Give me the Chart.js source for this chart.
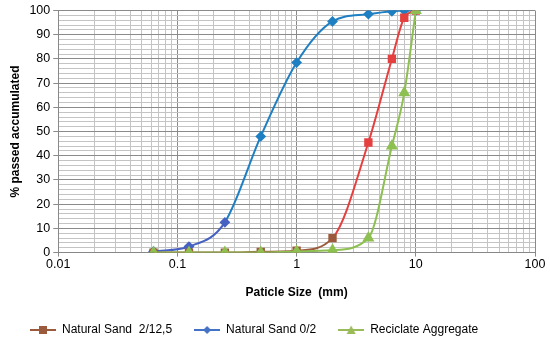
<!DOCTYPE html>
<html>
<head>
<meta charset="utf-8">
<script src="https://cdn.jsdelivr.net/npm/chart.js@4/dist/chart.umd.min.js"></script>
<style>
  html, body { margin: 0; padding: 0; background: #fff; }
  #wrap { width: 550px; height: 344px; }
</style>
</head>
<body>
<div id="wrap"><canvas id="myChart"></canvas></div>
<script>
// sieve sizes (mm) and % passed
var sizes = [0.063, 0.125, 0.25, 0.5, 1, 2, 4, 6.3, 8, 10];
var sand212 = [0, 0, 0, 0.3, 0.8, 6, 45.5, 80, 97, 100];
var sand02 = [0.5, 2.5, 12.5, 48, 78.5, 95.5, 98.5, 99.7, 100, 100];
var recycled = [0, 0, 0, 0, 0.5, 1, 6, 44, 66, 100];
var seriesNames = ["Natural Sand  2/12,5", "Natural Sand 0/2", "Reciclate Aggregate"];
var xMajor = [0.01, 0.1, 1, 10, 100];

var FONT = "'Liberation Sans', Arial, sans-serif";

function toPoints(ys) {
  return sizes.map(function (x, i) { return { x: x, y: ys[i] }; });
}

function isMajor(v) {
  var l = Math.log10(v);
  return Math.abs(l - Math.round(l)) < 1e-9;
}

// small legend icon: line with marker in the middle
function legendIcon(color, style) {
  var c = document.createElement("canvas");
  c.width = 26; c.height = 12;
  var g = c.getContext("2d");
  g.strokeStyle = color;
  g.lineWidth = 2;
  g.beginPath(); g.moveTo(0, 6); g.lineTo(26, 6); g.stroke();
  g.fillStyle = color;
  g.beginPath();
  if (style === "rect") {
    g.rect(9, 2, 8, 8);
  } else if (style === "rectRot") {
    g.moveTo(13, 2); g.lineTo(17, 6); g.lineTo(13, 10); g.lineTo(9, 6); g.closePath();
  } else {
    g.moveTo(13, 1.5); g.lineTo(17.5, 10); g.lineTo(8.5, 10); g.closePath();
  }
  g.fill();
  return c;
}

function splitColor(lowColor, highColor, limit) {
  return function (ctx) {
    return ctx.p1.parsed.y <= limit ? lowColor : highColor;
  };
}

var brown = "#9C5A3C", red = "#E5403F";
var blueDark = "#4661C2", blue = "#1E7FC2";
var green = "#8DC050";

var icons = [legendIcon(brown, "rect"), legendIcon("#4472C4", "rectRot"), legendIcon("#9BBB59", "triangle")];

var ctx = document.getElementById("myChart").getContext("2d");
var chart = new Chart(ctx, {
  type: "line",
  data: {
    datasets: [
      {
        label: seriesNames[0],
        data: toPoints(sand212),
        borderColor: brown,
        backgroundColor: brown,
        borderWidth: 2,
        segment: { borderColor: splitColor(brown, red, 6) },
        pointStyle: "rect",
        pointRadius: 4.5,
        pointBackgroundColor: sand212.map(function (v) { return v <= 6 ? brown : red; }),
        pointBorderColor: sand212.map(function (v) { return v <= 6 ? brown : red; }),
        cubicInterpolationMode: "monotone",
        order: 2
      },
      {
        label: seriesNames[1],
        data: toPoints(sand02),
        borderColor: blue,
        backgroundColor: blue,
        borderWidth: 2,
        segment: { borderColor: splitColor(blueDark, blue, 12.5) },
        pointStyle: "rectRot",
        pointRadius: 4,
        pointBackgroundColor: sand02.map(function (v) { return v <= 12.5 ? blueDark : blue; }),
        pointBorderColor: sand02.map(function (v) { return v <= 12.5 ? blueDark : blue; }),
        cubicInterpolationMode: "monotone",
        order: 3
      },
      {
        label: seriesNames[2],
        data: toPoints(recycled),
        borderColor: green,
        backgroundColor: green,
        borderWidth: 2,
        pointStyle: "triangle",
        pointRadius: 5,
        pointBackgroundColor: green,
        pointBorderColor: green,
        cubicInterpolationMode: "monotone",
        order: 1
      }
    ]
  },
  options: {
    responsive: true,
    maintainAspectRatio: false,
    animation: false,
    layout: { padding: { left: 8, right: 15, top: 4, bottom: -2 } },
    plugins: {
      tooltip: { enabled: false },
      legend: {
        position: "bottom",
        align: "start",
        labels: {
          font: { family: FONT, size: 12 },
          color: "#000",
          usePointStyle: true,
          pointStyleWidth: 26,
          padding: 22,
          generateLabels: function (ch) {
            return ch.data.datasets.map(function (ds, i) {
              return {
                text: ds.label,
                pointStyle: icons[i],
                fillStyle: "transparent",
                strokeStyle: "transparent",
                lineWidth: 0,
                fontColor: "#000",
                datasetIndex: i
              };
            });
          }
        }
      }
    },
    scales: {
      x: {
        type: "logarithmic",
        min: 0.01,
        max: 100,
        border: { display: true, color: "#888" },
        grid: {
          color: function (c) { return c.tick && isMajor(c.tick.value) ? "#8a8a8a" : "#c4c4c4"; },
          tickColor: function (c) { return c.tick && isMajor(c.tick.value) ? "#8a8a8a" : "rgba(0,0,0,0)"; },
          tickLength: 4
        },
        ticks: {
          autoSkip: false,
          maxRotation: 0,
          font: { family: FONT, size: 12.5 },
          color: "#000",
          padding: 0,
          callback: function (v) {
            return xMajor.indexOf(+v.toPrecision(6)) >= 0 ? String(+v.toPrecision(6)) : "";
          }
        },
        title: {
          display: true,
          text: "Paticle Size  (mm)",
          font: { family: FONT, size: 12, weight: "bold" },
          color: "#000",
          padding: { top: 14, bottom: 2 }
        }
      },
      y: {
        min: 0,
        max: 100,
        border: { display: true, color: "#888" },
        grid: {
          color: function (c) { return c.tick && c.tick.value % 10 === 0 ? "#8a8a8a" : "#c4c4c4"; },
          tickColor: function (c) { return c.tick && c.tick.value % 10 === 0 ? "#8a8a8a" : "rgba(0,0,0,0)"; },
          tickLength: 5
        },
        ticks: {
          stepSize: 2,
          autoSkip: false,
          font: { family: FONT, size: 12.5 },
          color: "#000",
          padding: 3,
          callback: function (v) { return v % 10 === 0 ? v : ""; }
        },
        title: {
          display: true,
          text: "% passed accumulated",
          font: { family: FONT, size: 12, weight: "bold" },
          color: "#000",
          padding: { top: 0, bottom: 4 }
        }
      }
    }
  }
});
</script>
</body>
</html>
